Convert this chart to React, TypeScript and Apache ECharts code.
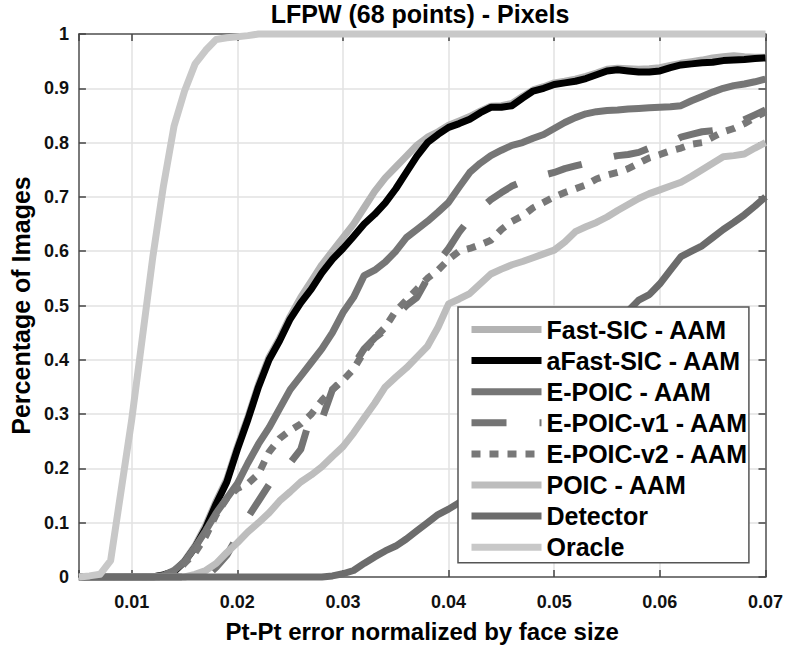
import React, { useEffect, useRef } from "react";
import * as echarts from "echarts";

// x positions: Pt-Pt error normalized by face size
const errorThresholds = [
  0.005, 0.006, 0.007, 0.008, 0.009,
  0.010, 0.011, 0.012, 0.013, 0.014,
  0.015, 0.016, 0.017, 0.018, 0.019,
  0.020, 0.021, 0.022, 0.023, 0.024,
  0.025, 0.026, 0.027, 0.028, 0.029,
  0.030, 0.031, 0.032, 0.033, 0.034,
  0.035, 0.036, 0.037, 0.038, 0.039,
  0.040, 0.041, 0.042, 0.043, 0.044,
  0.045, 0.046, 0.047, 0.048, 0.049,
  0.050, 0.051, 0.052, 0.053, 0.054,
  0.055, 0.056, 0.057, 0.058, 0.059,
  0.060, 0.061, 0.062, 0.063, 0.064,
  0.065, 0.066, 0.067, 0.068, 0.069,
  0.070,
];

const fastSic = [
  0, 0, 0, 0, 0,
  0, 0, 0, 0.004, 0.01,
  0.03, 0.058, 0.095, 0.14, 0.18,
  0.24, 0.295, 0.355, 0.405, 0.44,
  0.48, 0.515, 0.545, 0.575, 0.6,
  0.625, 0.65, 0.68, 0.71, 0.735,
  0.755, 0.775, 0.795, 0.81, 0.82,
  0.832, 0.84, 0.848, 0.858, 0.867,
  0.868, 0.872, 0.885, 0.897, 0.903,
  0.91, 0.913, 0.917, 0.922, 0.928,
  0.935, 0.937, 0.936, 0.935, 0.936,
  0.938, 0.942, 0.946, 0.949, 0.952,
  0.956, 0.958, 0.96, 0.958, 0.957,
  0.957,
];

const aFastSic = [
  0, 0, 0, 0, 0,
  0, 0, 0, 0.004, 0.01,
  0.028, 0.055, 0.09, 0.135, 0.175,
  0.235, 0.29, 0.35, 0.4, 0.435,
  0.475, 0.505, 0.53, 0.56, 0.585,
  0.605, 0.627, 0.65, 0.668, 0.689,
  0.715, 0.745, 0.775, 0.8, 0.815,
  0.828, 0.835, 0.843, 0.855, 0.865,
  0.865, 0.868, 0.882, 0.895, 0.9,
  0.907, 0.91, 0.913, 0.918, 0.925,
  0.932, 0.934, 0.932, 0.93, 0.93,
  0.932, 0.938, 0.943, 0.945, 0.947,
  0.948, 0.951, 0.952, 0.953, 0.955,
  0.956,
];

const ePoic = [
  0, 0, 0, 0, 0,
  0, 0, 0, 0.003, 0.012,
  0.028, 0.055, 0.085, 0.118, 0.145,
  0.172, 0.21, 0.245, 0.275, 0.31,
  0.345, 0.37, 0.395, 0.42, 0.45,
  0.487, 0.515, 0.555, 0.565, 0.58,
  0.6, 0.625, 0.64, 0.655, 0.672,
  0.69, 0.718, 0.745, 0.762, 0.776,
  0.786, 0.795, 0.8, 0.808, 0.815,
  0.826, 0.837, 0.846, 0.853, 0.857,
  0.859, 0.86, 0.862, 0.863, 0.864,
  0.865, 0.866, 0.868, 0.877, 0.885,
  0.893, 0.9, 0.905, 0.908, 0.912,
  0.917,
];

const ePoicV1 = [
  0, 0, 0, 0, 0,
  0, 0, 0, 0, 0,
  0, 0, 0, 0.018, 0.04,
  0.075, 0.11, 0.14, 0.17, 0.19,
  0.21, 0.235, 0.3, 0.29, 0.345,
  0.365, 0.39, 0.42, 0.44, 0.455,
  0.48, 0.5, 0.515, 0.55, 0.58,
  0.605, 0.635, 0.66, 0.678, 0.695,
  0.708, 0.72, 0.728, 0.735, 0.74,
  0.745, 0.752, 0.757, 0.762, 0.767,
  0.772, 0.776, 0.778, 0.782, 0.79,
  0.797, 0.8, 0.81, 0.815, 0.82,
  0.822, 0.826, 0.833, 0.842, 0.851,
  0.86,
];

const ePoicV2 = [
  0, 0, 0, 0, 0,
  0, 0, 0, 0, 0.005,
  0.025, 0.045, 0.075, 0.115, 0.145,
  0.163, 0.172, 0.19, 0.23, 0.255,
  0.27, 0.282, 0.3, 0.325, 0.345,
  0.362, 0.383, 0.415, 0.44, 0.46,
  0.49, 0.51, 0.53, 0.55, 0.565,
  0.585, 0.6, 0.605, 0.612, 0.62,
  0.64, 0.655, 0.665, 0.68, 0.69,
  0.7, 0.708, 0.715, 0.722, 0.733,
  0.74, 0.745, 0.752, 0.762, 0.772,
  0.778, 0.785, 0.79, 0.797, 0.8,
  0.81, 0.82, 0.826, 0.835, 0.846,
  0.857,
];

const poic = [
  0, 0, 0, 0, 0,
  0, 0, 0, 0, 0,
  0, 0.005, 0.012, 0.025, 0.045,
  0.063, 0.083, 0.1, 0.118, 0.14,
  0.157, 0.175, 0.188, 0.203, 0.222,
  0.24, 0.265, 0.293, 0.32, 0.35,
  0.368, 0.385, 0.405, 0.425, 0.46,
  0.503, 0.512, 0.522, 0.54, 0.558,
  0.567, 0.575, 0.581, 0.588, 0.595,
  0.602, 0.617, 0.636, 0.645, 0.653,
  0.663, 0.675, 0.686, 0.697, 0.706,
  0.713, 0.72, 0.727, 0.738, 0.75,
  0.762, 0.774, 0.776, 0.779, 0.79,
  0.8,
];

const detector = [
  0, 0, 0, 0, 0,
  0, 0, 0, 0, 0,
  0, 0, 0, 0, 0,
  0, 0, 0, 0, 0,
  0, 0, 0, 0, 0.002,
  0.006, 0.012, 0.025, 0.037, 0.048,
  0.057, 0.07, 0.085, 0.1, 0.115,
  0.125, 0.137, 0.15, 0.17, 0.19,
  0.21, 0.235, 0.26, 0.285, 0.31,
  0.335, 0.36, 0.385, 0.41, 0.435,
  0.46, 0.48, 0.49, 0.51, 0.52,
  0.54, 0.565, 0.59, 0.6, 0.61,
  0.625, 0.64, 0.653, 0.667, 0.683,
  0.7,
];

const oracle = [
  0, 0.002, 0.005, 0.03, 0.16,
  0.29, 0.44, 0.59, 0.72, 0.83,
  0.895, 0.945, 0.97, 0.99, 0.993,
  0.995, 0.997, 1, 1, 1,
  1, 1, 1, 1, 1,
  1, 1, 1, 1, 1,
  1, 1, 1, 1, 1,
  1, 1, 1, 1, 1,
  1, 1, 1, 1, 1,
  1, 1, 1, 1, 1,
  1, 1, 1, 1, 1,
  1, 1, 1, 1, 1,
  1, 1, 1, 1, 1,
  1,
];

const seriesNames = [
  "Fast-SIC - AAM",
  "aFast-SIC - AAM",
  "E-POIC - AAM",
  "E-POIC-v1 - AAM",
  "E-POIC-v2 - AAM",
  "POIC - AAM",
  "Detector",
  "Oracle",
];

const FONT = '"Liberation Sans", Arial, Helvetica, sans-serif';

export default function App() {
  const ref = useRef<HTMLDivElement>(null);

  useEffect(() => {
    if (!ref.current) return;
    const chart = echarts.init(ref.current, undefined, { renderer: "svg" });

    const pair = (vals: number[]) => errorThresholds.map((x, i) => [x, vals[i]]);
    const mk = (name: string, vals: number[], color: string, type: any) => ({
      name,
      type: "line",
      data: pair(vals),
      symbol: "none",
      showSymbol: false,
      clip: false,
      lineStyle: { color, width: 7, type, cap: "butt", join: "round" },
      itemStyle: { color },
      emphasis: { disabled: true },
    });

    const axisLineStyle = { color: "#555", width: 1.5 };
    const tickStyle = { color: "#444", width: 1.5 };

    chart.setOption({
      animation: false,
      backgroundColor: "#fff",
      grid: { left: 74, top: 34, right: 20, bottom: 70, containLabel: false },
      graphic: [
        {
          type: "text",
          x: 420,
          y: 1,
          style: {
            text: "LFPW (68 points) - Pixels",
            fontFamily: FONT,
            fontSize: 25,
            fontWeight: "bold",
            fill: "#000",
            textAlign: "center",
            textVerticalAlign: "top",
          },
        },
      ],
      xAxis: [
        {
          type: "value",
          position: "bottom",
          min: 0.005,
          max: 0.07,
          splitNumber: 7,
          axisLine: { show: true, onZero: false, lineStyle: axisLineStyle },
          axisTick: { show: true, inside: true, length: 7, lineStyle: tickStyle },
          axisLabel: {
            fontFamily: FONT,
            fontSize: 18,
            fontWeight: "bold",
            color: "#111",
            margin: 16,
            formatter: (v: number) => (v < 0.0075 ? "" : v.toFixed(2)),
          },
          splitLine: { show: true, lineStyle: { color: "#e2e2e2", width: 1.5 } },
          name: "Pt-Pt error normalized by face size",
          nameLocation: "middle",
          nameGap: 42,
          nameTextStyle: { fontFamily: FONT, fontSize: 24, fontWeight: "bold", color: "#000" },
        },
        {
          type: "value",
          position: "top",
          min: 0.005,
          max: 0.07,
          splitNumber: 7,
          axisLine: { show: true, onZero: false, lineStyle: axisLineStyle },
          axisTick: { show: true, inside: true, length: 7, lineStyle: tickStyle },
          axisLabel: { show: false },
          splitLine: { show: false },
        },
      ],
      yAxis: [
        {
          type: "value",
          position: "left",
          min: 0,
          max: 1,
          interval: 0.1,
          axisLine: { show: true, onZero: false, lineStyle: axisLineStyle },
          axisTick: { show: true, inside: true, length: 7, lineStyle: tickStyle },
          axisLabel: {
            fontFamily: FONT,
            fontSize: 18,
            fontWeight: "bold",
            color: "#111",
            margin: 10,
          },
          splitLine: { show: true, lineStyle: { color: "#e2e2e2", width: 1.5 } },
          name: "Percentage of Images",
          nameLocation: "middle",
          nameGap: 44,
          nameTextStyle: { fontFamily: FONT, fontSize: 25, fontWeight: "bold", color: "#000" },
        },
        {
          type: "value",
          position: "right",
          min: 0,
          max: 1,
          interval: 0.1,
          axisLine: { show: true, onZero: false, lineStyle: axisLineStyle },
          axisTick: { show: true, inside: true, length: 7, lineStyle: tickStyle },
          axisLabel: { show: false },
          splitLine: { show: false },
        },
      ],
      legend: {
        orient: "vertical",
        left: 458,
        top: 307,
        itemWidth: 70,
        itemHeight: 14,
        itemGap: 6.1,
        padding: [10, 1, 3, 10],
        backgroundColor: "#fff",
        borderColor: "#555",
        borderWidth: 1.5,
        selectedMode: false,
        data: seriesNames,
        itemStyle: { opacity: 0 },
        lineStyle: { width: 7, cap: "butt" },
        textStyle: {
          fontFamily: FONT,
          fontSize: 25,
          fontWeight: "bold",
          color: "#000",
          lineHeight: 25,
        },
      },
      series: [
        mk(seriesNames[0], fastSic, "#b3b3b3", "solid"),
        mk(seriesNames[1], aFastSic, "#000000", "solid"),
        mk(seriesNames[2], ePoic, "#767676", "solid"),
        mk(seriesNames[3], ePoicV1, "#747474", [35, 33]),
        mk(seriesNames[4], ePoicV2, "#787878", [9, 9]),
        mk(seriesNames[5], poic, "#bdbdbd", "solid"),
        mk(seriesNames[6], detector, "#6c6c6c", "solid"),
        mk(seriesNames[7], oracle, "#c8c8c8", "solid"),
      ],
    });

    return () => chart.dispose();
  }, []);

  return (
    <div
      ref={ref}
      style={{ position: "fixed", left: 0, top: 0, width: 786, height: 648, background: "#fff" }}
    />
  );
}
